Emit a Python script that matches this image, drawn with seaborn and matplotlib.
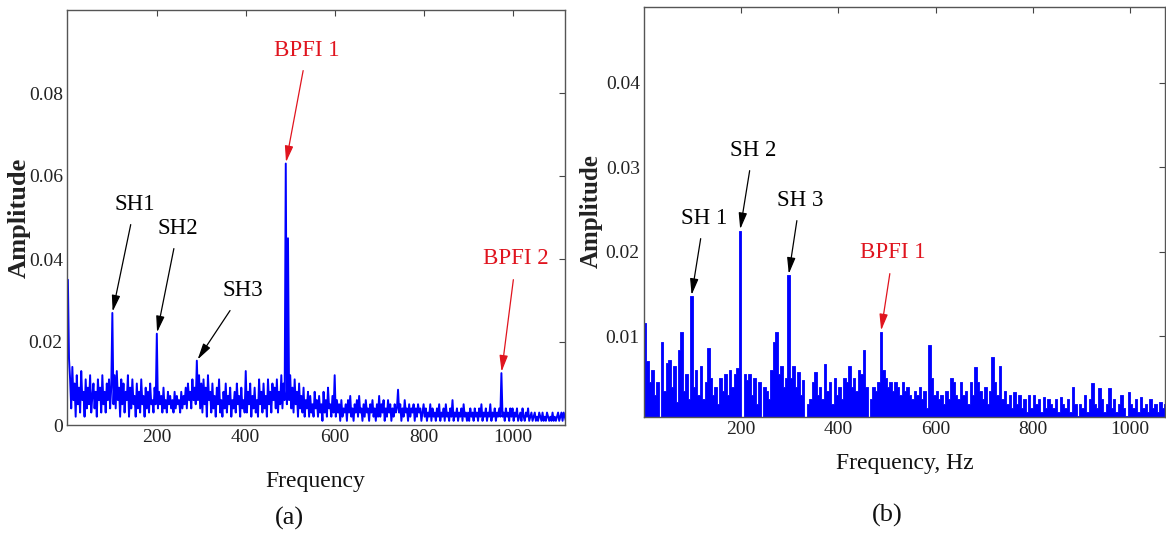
import numpy as np
import pandas as pd
import matplotlib
matplotlib.use("Agg")
import matplotlib.pyplot as plt
import seaborn as sns

# ---------------- data ----------------
# (a) amplitude spectrum, 2.5 Hz spacing starting at 0 Hz (one row = 100 Hz)
amp_a = [
    0.035, 0.016, 0.011, 0.004, 0.014, 0.006, 0.010, 0.002, 0.012, 0.005,
    0.009, 0.003, 0.013, 0.006, 0.008, 0.002, 0.011, 0.004, 0.009, 0.005,
    0.012, 0.003, 0.007, 0.010, 0.004, 0.008, 0.002, 0.011, 0.006, 0.009,
    0.003, 0.012, 0.005, 0.008, 0.003, 0.010, 0.006, 0.011, 0.004, 0.009,
    # 100 Hz
    0.027, 0.005, 0.012, 0.004, 0.013, 0.006, 0.009, 0.002, 0.011, 0.005,
    0.010, 0.003, 0.008, 0.006, 0.012, 0.002, 0.009, 0.004, 0.011, 0.005,
    0.007, 0.002, 0.010, 0.004, 0.008, 0.003, 0.011, 0.005, 0.007, 0.002,
    0.009, 0.004, 0.008, 0.003, 0.010, 0.005, 0.006, 0.003, 0.009, 0.005,
    # 200 Hz
    0.022, 0.004, 0.008, 0.005, 0.007, 0.003, 0.009, 0.004, 0.006, 0.003,
    0.008, 0.005, 0.007, 0.004, 0.006, 0.003, 0.008, 0.004, 0.007, 0.005,
    0.006, 0.003, 0.008, 0.004, 0.007, 0.005, 0.009, 0.004, 0.010, 0.006,
    0.008, 0.004, 0.011, 0.006, 0.009, 0.005, 0.0155, 0.006, 0.012, 0.004,
    # 300 Hz
    0.010, 0.003, 0.011, 0.005, 0.009, 0.002, 0.012, 0.006, 0.008, 0.003,
    0.010, 0.004, 0.007, 0.002, 0.009, 0.005, 0.011, 0.003, 0.006, 0.002,
    0.008, 0.004, 0.010, 0.003, 0.007, 0.005, 0.009, 0.002, 0.006, 0.004,
    0.008, 0.003, 0.010, 0.005, 0.007, 0.002, 0.009, 0.004, 0.006, 0.003,
    # 400 Hz
    0.013, 0.003, 0.008, 0.005, 0.010, 0.002, 0.007, 0.004, 0.009, 0.003,
    0.006, 0.002, 0.011, 0.005, 0.008, 0.003, 0.010, 0.004, 0.007, 0.002,
    0.011, 0.005, 0.008, 0.003, 0.010, 0.006, 0.009, 0.004, 0.011, 0.003,
    0.008, 0.005, 0.012, 0.004, 0.010, 0.006, 0.063, 0.005, 0.045, 0.006,
    # 500 Hz
    0.012, 0.004, 0.009, 0.003, 0.011, 0.005, 0.008, 0.002, 0.010, 0.004,
    0.007, 0.003, 0.009, 0.002, 0.006, 0.004, 0.008, 0.002, 0.007, 0.003,
    0.005, 0.002, 0.008, 0.004, 0.006, 0.002, 0.007, 0.003, 0.005, 0.001,
    0.008, 0.003, 0.006, 0.002, 0.009, 0.004, 0.005, 0.002, 0.007, 0.003,
    # 600 Hz
    0.012, 0.002, 0.006, 0.003, 0.005, 0.001, 0.006, 0.002, 0.004, 0.003,
    0.005, 0.001, 0.006, 0.003, 0.007, 0.002, 0.004, 0.001, 0.005, 0.003,
    0.006, 0.002, 0.007, 0.003, 0.004, 0.001, 0.005, 0.002, 0.006, 0.003,
    0.004, 0.001, 0.005, 0.003, 0.006, 0.002, 0.004, 0.001, 0.005, 0.002,
    # 700 Hz
    0.007, 0.002, 0.005, 0.003, 0.006, 0.001, 0.004, 0.002, 0.006, 0.003,
    0.005, 0.001, 0.004, 0.002, 0.005, 0.003, 0.004, 0.0085, 0.003, 0.005,
    0.001, 0.004, 0.002, 0.006, 0.003, 0.004, 0.001, 0.005, 0.002, 0.004,
    0.003, 0.005, 0.001, 0.004, 0.002, 0.005, 0.003, 0.004, 0.001, 0.003,
    # 800 Hz
    0.005, 0.002, 0.004, 0.001, 0.003, 0.002, 0.005, 0.001, 0.004, 0.002,
    0.003, 0.001, 0.004, 0.002, 0.005, 0.001, 0.003, 0.002, 0.004, 0.001,
    0.005, 0.002, 0.003, 0.001, 0.004, 0.002, 0.006, 0.001, 0.003, 0.002,
    0.004, 0.001, 0.003, 0.002, 0.004, 0.001, 0.005, 0.002, 0.003, 0.001,
    # 900 Hz
    0.003, 0.001, 0.004, 0.002, 0.003, 0.001, 0.004, 0.002, 0.003, 0.001,
    0.004, 0.002, 0.005, 0.001, 0.003, 0.002, 0.004, 0.001, 0.003, 0.002,
    0.005, 0.001, 0.003, 0.002, 0.004, 0.001, 0.003, 0.002, 0.004, 0.002,
    0.0125, 0.002, 0.003, 0.001, 0.004, 0.002, 0.003, 0.001, 0.004, 0.002,
    # 1000 Hz
    0.004, 0.001, 0.003, 0.002, 0.004, 0.001, 0.002, 0.003, 0.001, 0.004,
    0.002, 0.001, 0.003, 0.002, 0.004, 0.001, 0.002, 0.003, 0.001, 0.002,
    0.003, 0.001, 0.002, 0.001, 0.003, 0.002, 0.001, 0.003, 0.001, 0.002,
    0.001, 0.003, 0.002, 0.001, 0.002, 0.001, 0.003, 0.001, 0.002, 0.001,
    # 1100 Hz
    0.002, 0.003, 0.001, 0.002, 0.003, 0.001, 0.003, 0.002, 0.001,
]
freq_a = np.arange(len(amp_a)) * 2.5

# (b) amplitude spectrum, 5 Hz bins starting at 0 Hz (one row = 50 Hz)
amp_b = [
    0.0116, 0.0070, 0.0045, 0.0060, 0.0030, 0.0045, 0.0000, 0.0093, 0.0035, 0.0068,
    0.0072, 0.0040, 0.0065, 0.0022, 0.0083, 0.0105, 0.0035, 0.0055, 0.0025, 0.0147,
    0.0040, 0.0060, 0.0030, 0.0065, 0.0025, 0.0045, 0.0086, 0.0050, 0.0030, 0.0040,
    0.0020, 0.0050, 0.0035, 0.0055, 0.0030, 0.0060, 0.0040, 0.0055, 0.0062, 0.0225,
    0.0000, 0.0055, 0.0048, 0.0055, 0.0030, 0.0050, 0.0020, 0.0045, 0.0000, 0.0040,
    0.0035, 0.0025, 0.0060, 0.0093, 0.0105, 0.0055, 0.0065, 0.0040, 0.0050, 0.0172,
    0.0050, 0.0065, 0.0040, 0.0057, 0.0030, 0.0048, 0.0000, 0.0020, 0.0025, 0.0045,
    0.0057, 0.0030, 0.0040, 0.0025, 0.0067, 0.0035, 0.0045, 0.0020, 0.0050, 0.0030,
    0.0040, 0.0025, 0.0050, 0.0045, 0.0065, 0.0040, 0.0050, 0.0035, 0.0060, 0.0055,
    0.0084, 0.0040, 0.0000, 0.0025, 0.0040, 0.0035, 0.0045, 0.0105, 0.0060, 0.0050,
    0.0040, 0.0045, 0.0035, 0.0045, 0.0040, 0.0030, 0.0045, 0.0035, 0.0040, 0.0030,
    0.0025, 0.0035, 0.0030, 0.0040, 0.0025, 0.0035, 0.0015, 0.0089, 0.0050, 0.0030,
    0.0035, 0.0025, 0.0030, 0.0020, 0.0035, 0.0025, 0.0050, 0.0045, 0.0030, 0.0025,
    0.0045, 0.0030, 0.0035, 0.0020, 0.0045, 0.0030, 0.0063, 0.0045, 0.0035, 0.0025,
    0.0040, 0.0020, 0.0035, 0.0075, 0.0045, 0.0030, 0.0065, 0.0025, 0.0035, 0.0020,
    0.0030, 0.0015, 0.0034, 0.0020, 0.0030, 0.0015, 0.0025, 0.0010, 0.0030, 0.0015,
    0.0030, 0.0020, 0.0025, 0.0010, 0.0028, 0.0015, 0.0025, 0.0020, 0.0015, 0.0025,
    0.0010, 0.0028, 0.0020, 0.0015, 0.0025, 0.0010, 0.0040, 0.0020, 0.0005, 0.0020,
    0.0015, 0.0030, 0.0010, 0.0025, 0.0044, 0.0020, 0.0015, 0.0038, 0.0025, 0.0010,
    0.0020, 0.0038, 0.0015, 0.0025, 0.0010, 0.0020, 0.0030, 0.0015, 0.0005, 0.0034,
    0.0020, 0.0015, 0.0025, 0.0010, 0.0028, 0.0015, 0.0020, 0.0010, 0.0025, 0.0015,
    0.0020, 0.0010, 0.0022, 0.0015, 0.0020,
]
bin_width_b = 5.0
freq_b = np.arange(len(amp_b)) * bin_width_b + bin_width_b / 2

# annotated peaks: (label, frequency, text position in figure pixels, colour)
peaks_a = [
    ("SH1", 100, (135, 334), "black"),
    ("SH2", 200, (178, 310), "black"),
    ("SH3", 290, (243, 247), "black"),
    ("BPFI 1", 490, (307, 488), "#e0141e"),
    ("BPFI 2", 975, (516, 279), "#e0141e"),
]
peaks_b = [
    ("SH 1", 97.5, (704, 320), "black"),
    ("SH 2", 197.5, (753, 388), "black"),
    ("SH 3", 297.5, (800, 338), "black"),
    ("BPFI 1", 487.5, (893, 285), "#e0141e"),
]

# ---------------- style ----------------
sns.set_style("white")
plt.rcParams["font.family"] = ["Liberation Serif", "DejaVu Serif"]

W, H = 1166, 538
fig = plt.figure(figsize=(W / 100, H / 100), dpi=100)
fig.patch.set_facecolor("white")


def px_axes(x0, y0, x1, y1):
    """Axes from image-pixel box (top-left origin)."""
    return fig.add_axes([x0 / W, 1 - y1 / H, (x1 - x0) / W, (y1 - y0) / H])


def style_axes(ax):
    for s in ax.spines.values():
        s.set_color("#555555")
        s.set_linewidth(1.0)
        s.set_visible(True)
    ax.tick_params(direction="in", top=True, right=True, length=4, width=0.8,
                   color="#444444", labelsize=14, labelcolor="#222222", pad=3)
    ax.set_xticks([200, 400, 600, 800, 1000])
    ax.set_xticklabels(["200", "400", "600", "800", "1000"])


def annotate_peaks(ax, freqs, amps, peaks):
    for label, f, (tx, ty), col in peaks:
        idx = int(np.argmin(np.abs(np.asarray(freqs) - f)))
        ax.annotate(label, xy=(freqs[idx], amps[idx]), xycoords="data",
                    xytext=(tx, ty), textcoords="figure pixels",
                    ha="center", va="center", fontsize=16.5, color=col,
                    arrowprops=dict(arrowstyle="-|>,head_length=0.7,head_width=0.18",
                                    color=col, lw=0.9, shrinkA=5, shrinkB=1,
                                    mutation_scale=14))


# ---------------- panel (a) ----------------
ax1 = px_axes(67, 10, 565, 425)
sns.lineplot(x=freq_a, y=amp_a, ax=ax1, color="#0000ff", linewidth=1.4)
ax1.set_xlim(-2, 1118)
ax1.set_ylim(0, 0.1)
style_axes(ax1)
ax1.set_yticks([0, 0.02, 0.04, 0.06, 0.08])
ax1.set_yticklabels(["0", "0.02", "0.04", "0.06", "0.08"])
ax1.set_xlabel("")
ax1.set_ylabel("")
annotate_peaks(ax1, list(freq_a), amp_a, peaks_a)

# ---------------- panel (b) ----------------
ax2 = px_axes(644, 7, 1165, 417)
spec_b = pd.DataFrame({"freq": freq_b, "amp": amp_b})
sns.histplot(data=spec_b, x="freq", weights="amp", binwidth=bin_width_b,
             binrange=(0, len(amp_b) * bin_width_b), element="step",
             fill=True, color="#0000ff", alpha=1.0, linewidth=0.6, ax=ax2)
ax2.set_xlim(0, 1072)
ax2.set_ylim(0.0004, 0.049)
style_axes(ax2)
ax2.set_yticks([0.01, 0.02, 0.03, 0.04])
ax2.set_yticklabels(["0.01", "0.02", "0.03", "0.04"])
ax2.set_xlabel("")
ax2.set_ylabel("")
annotate_peaks(ax2, list(freq_b), amp_b, peaks_b)

# ---------------- labels ----------------
fig.text(315 / W, 1 - 481 / H, "Frequency", ha="center", va="center",
         fontsize=17, color="#111111")
fig.text(905 / W, 1 - 463 / H, "Frequency, Hz", ha="center", va="center",
         fontsize=17, color="#111111")
fig.text(19 / W, 1 - 218 / H, "Amplitude", ha="center", va="center",
         rotation=90, fontsize=19, fontweight="bold", color="#222222")
fig.text(591 / W, 1 - 211 / H, "Amplitude", ha="center", va="center",
         rotation=90, fontsize=18, fontweight="bold", color="#222222")
fig.text(289 / W, 1 - 518 / H, "(a)", ha="center", va="center",
         fontsize=19, color="#111111")
fig.text(887 / W, 1 - 515 / H, "(b)", ha="center", va="center",
         fontsize=19, color="#111111")

fig.savefig("out.png", dpi=100, facecolor="white")
